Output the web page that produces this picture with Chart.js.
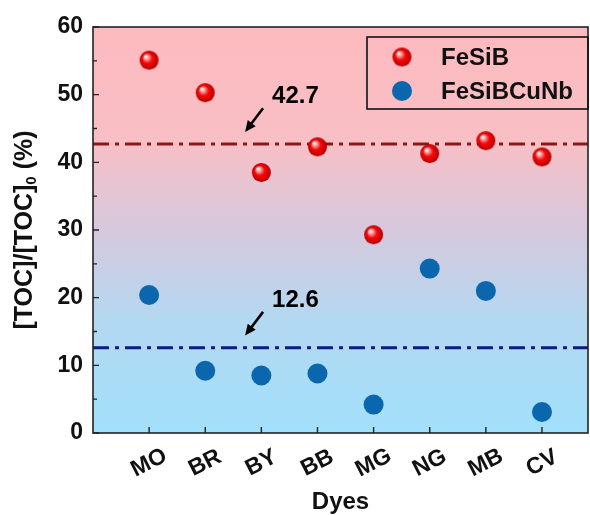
<!DOCTYPE html>
<html>
<head>
<meta charset="utf-8">
<script src="https://cdn.jsdelivr.net/npm/chart.js@4.4.1/dist/chart.umd.min.js"></script>
<style>
  html, body { margin: 0; padding: 0; background: #fff; }
  canvas { display: block; }
</style>
</head>
<body>
<canvas id="chart" width="590" height="515"></canvas>
<script>
const dyes = ['MO', 'BR', 'BY', 'BB', 'MG', 'NG', 'MB', 'CV'];
const feSiB = [55.1, 50.3, 38.5, 42.3, 29.3, 41.3, 43.2, 40.8];
const feSiBCuNb = [20.4, 9.2, 8.5, 8.8, 4.2, 24.3, 21.0, 3.1];
const yTickLabels = [0, 10, 20, 30, 40, 50, 60];
const refLevels = [42.7, 12.6];
const refLabels = ['42.7', '12.6'];

const FONT = '"Liberation Sans", Arial, sans-serif';
const X_MAX = 8.82;
const PLOT_RIGHT = 588;

// shiny red ball used as the FeSiB point style
function makeSphere(r) {
  const c = document.createElement('canvas');
  const s = Math.ceil(r * 2) + 2;
  c.width = s; c.height = s;
  const g = c.getContext('2d');
  const cx = s / 2, cy = s / 2;
  const grad = g.createRadialGradient(cx - r * 0.35, cy - r * 0.4, r * 0.05, cx, cy, r);
  grad.addColorStop(0, '#ffffff');
  grad.addColorStop(0.2, '#ff9c9c');
  grad.addColorStop(0.5, '#f20a0a');
  grad.addColorStop(0.85, '#d40000');
  grad.addColorStop(1, '#9c0000');
  g.fillStyle = grad;
  g.beginPath();
  g.arc(cx, cy, r, 0, Math.PI * 2);
  g.fill();
  return c;
}
const sphere = makeSphere(9.5);
const BLUE = '#0a67ae';

const points = arr => arr.map((v, i) => ({ x: i + 1, y: v }));
const hline = v => [{ x: 0, y: v }, { x: X_MAX, y: v }];

// gradient background, frame, inward ticks and all the hand-placed text
const decor = {
  id: 'decor',
  afterLayout(chart) {
    // plot runs right up to the canvas edge
    const a = chart.chartArea, x = chart.scales.x;
    a.right = PLOT_RIGHT;
    a.width = a.right - a.left;
    x.right = PLOT_RIGHT;
    x.width = x.right - x.left;
    x.configure();
  },
  beforeDatasetsDraw(chart) {
    const { ctx, chartArea: a } = chart;
    const g = ctx.createLinearGradient(0, a.top, 0, a.bottom);
    g.addColorStop(0, '#fdbabe');
    g.addColorStop(0.28, '#f8bfc5');
    g.addColorStop(0.5, '#d7c8dd');
    g.addColorStop(0.72, '#b4d8f1');
    g.addColorStop(1, '#a2e0fb');
    ctx.save();
    ctx.fillStyle = g;
    ctx.fillRect(a.left, a.top, a.right - a.left, a.bottom - a.top);
    ctx.restore();
  },
  afterDatasetsDraw(chart) {
    const { ctx, chartArea: a, scales: { x, y } } = chart;
    ctx.save();
    ctx.strokeStyle = '#222';
    ctx.lineWidth = 1.6;
    ctx.strokeRect(a.left, a.top, a.right - a.left, a.bottom - a.top);

    // ticks point into the plot
    ctx.lineWidth = 1.4;
    ctx.beginPath();
    dyes.forEach((d, i) => {
      const px = x.getPixelForValue(i + 1);
      ctx.moveTo(px, a.bottom);
      ctx.lineTo(px, a.bottom - 6);
    });
    y.ticks.forEach(t => {
      const py = y.getPixelForValue(t.value);
      const len = t.value % 10 === 0 ? 6 : 4;
      ctx.moveTo(a.left, py);
      ctx.lineTo(a.left + len, py);
    });
    ctx.stroke();

    // rotated category labels
    ctx.fillStyle = '#111';
    ctx.font = 'bold 23px ' + FONT;
    ctx.textAlign = 'center';
    ctx.textBaseline = 'middle';
    dyes.forEach((d, i) => {
      ctx.save();
      ctx.translate(x.getPixelForValue(i + 1), a.bottom + 30);
      ctx.rotate(-27 * Math.PI / 180);
      ctx.fillText(d, 0, 0);
      ctx.restore();
    });

    // axis titles
    ctx.font = 'bold 24px ' + FONT;
    ctx.fillText('Dyes', (a.left + a.right) / 2, a.bottom + 69);

    ctx.save();
    ctx.translate(25, (a.top + a.bottom) / 2);
    ctx.rotate(-Math.PI / 2);
    const big = 'bold 25px ' + FONT, small = 'bold 15px ' + FONT;
    const p1 = '[TOC]/[TOC]', sub = '0', p2 = ' (%)';
    ctx.font = big;
    const w1 = ctx.measureText(p1).width, w3 = ctx.measureText(p2).width;
    ctx.font = small;
    const w2 = ctx.measureText(sub).width;
    let cx = -(w1 + w2 + w3) / 2;
    ctx.textAlign = 'left';
    ctx.font = big;
    ctx.fillText(p1, cx, 0);
    cx += w1;
    ctx.font = small;
    ctx.fillText(sub, cx, 7);
    cx += w2;
    ctx.font = big;
    ctx.fillText(p2, cx, 0);
    ctx.restore();

    // value callouts with arrows pointing at the reference lines
    refLevels.forEach((v, k) => {
      const tx = x.getPixelForValue(3.03), ty = y.getPixelForValue(v + 5.3);
      const hx = x.getPixelForValue(2.71), hy = y.getPixelForValue(v + 1.8);
      const ang = Math.atan2(hy - ty, hx - tx);
      ctx.strokeStyle = '#000';
      ctx.fillStyle = '#000';
      ctx.lineWidth = 2.6;
      ctx.beginPath();
      ctx.moveTo(tx, ty);
      ctx.lineTo(hx - 8 * Math.cos(ang), hy - 8 * Math.sin(ang));
      ctx.stroke();
      ctx.beginPath();
      ctx.moveTo(hx, hy);
      ctx.lineTo(hx - 11 * Math.cos(ang) + 5 * Math.sin(ang), hy - 11 * Math.sin(ang) - 5 * Math.cos(ang));
      ctx.lineTo(hx - 11 * Math.cos(ang) - 5 * Math.sin(ang), hy - 11 * Math.sin(ang) + 5 * Math.cos(ang));
      ctx.closePath();
      ctx.fill();
      ctx.font = 'bold 24px ' + FONT;
      ctx.textAlign = 'left';
      ctx.textBaseline = 'middle';
      ctx.fillText(refLabels[k], x.getPixelForValue(3.19), y.getPixelForValue(v + 7.0));
    });

    // legend box
    const bx = a.right - 221, by = a.top + 10, bw = 221, bh = 72;
    ctx.strokeStyle = '#111';
    ctx.lineWidth = 1.6;
    ctx.strokeRect(bx, by, bw, bh);
    ctx.font = 'bold 24px ' + FONT;
    chart.data.datasets.filter(d => d.inLegend).forEach((d, i) => {
      const my = by + 20 + i * 34;
      const mx = bx + 35;
      if (d.pointStyle instanceof HTMLCanvasElement) {
        ctx.drawImage(d.pointStyle, mx - d.pointStyle.width / 2, my - d.pointStyle.height / 2);
      } else {
        ctx.fillStyle = d.backgroundColor;
        ctx.beginPath();
        ctx.arc(mx, my, 10, 0, Math.PI * 2);
        ctx.fill();
      }
      ctx.fillStyle = '#111';
      ctx.fillText(d.label, bx + 74, my + 1);
    });
    ctx.restore();
  }
};

Chart.defaults.font.family = FONT;

new Chart(document.getElementById('chart'), {
  type: 'scatter',
  data: {
    datasets: [
      { label: 'FeSiB', inLegend: true, data: points(feSiB), pointStyle: sphere, pointRadius: 10 },
      { label: 'FeSiBCuNb', inLegend: true, data: points(feSiBCuNb), pointStyle: 'circle',
        pointRadius: 10, backgroundColor: BLUE, borderWidth: 0 },
      { label: 'ref1', data: hline(refLevels[0]), showLine: true, pointRadius: 0,
        borderColor: '#8e1616', borderWidth: 3, borderDash: [16, 6, 4, 6] },
      { label: 'ref2', data: hline(refLevels[1]), showLine: true, pointRadius: 0,
        borderColor: '#141682', borderWidth: 3, borderDash: [16, 6, 4, 6] }
    ]
  },
  options: {
    responsive: false,
    animation: false,
    events: [],
    layout: { padding: { top: 27, right: 2, left: 0, bottom: 0 } },
    plugins: { legend: { display: false }, tooltip: { enabled: false } },
    scales: {
      x: {
        type: 'linear', min: 0, max: X_MAX,
        grid: { display: false, drawTicks: false },
        border: { display: false },
        ticks: { display: false },
        afterFit: s => { s.height = 82; }
      },
      y: {
        min: 0, max: 60,
        grid: { display: false, drawTicks: false },
        border: { display: false },
        ticks: {
          stepSize: 5,
          padding: 10,
          color: '#111',
          font: { size: 23, weight: 'bold' },
          callback: v => yTickLabels.includes(v) ? v : ''
        },
        afterFit: s => { s.width = 93; }
      }
    }
  },
  plugins: [decor]
});
</script>
</body>
</html>
